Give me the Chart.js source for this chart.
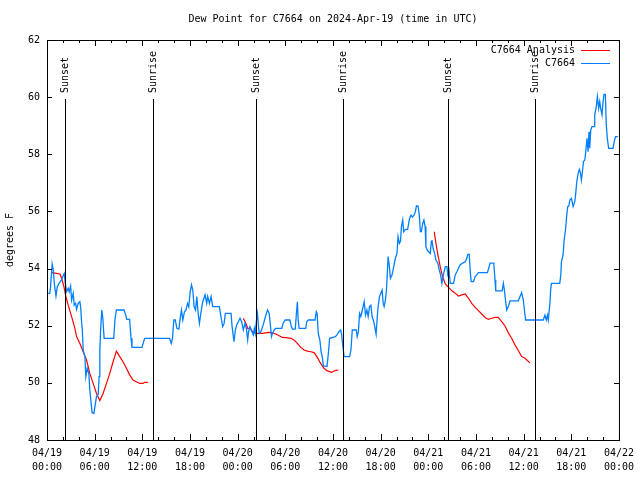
<!DOCTYPE html>
<html>
<head>
<meta charset="utf-8">
<script src="https://cdn.jsdelivr.net/npm/chart.js@4.4.1/dist/chart.umd.min.js"></script>
<style>
  html, body { margin: 0; padding: 0; background: #fff; }
  canvas { display: block; }
</style>
</head>
<body>
<canvas id="chart" width="640" height="480"></canvas>
<script>
// hours since 2024-04-19 00:00 UTC
const obsHours = [0.15,0.35,0.45,0.65,0.8,0.92,1.13,1.3,1.55,1.84,2.05,2.17,2.3,2.47,2.67,2.8,2.97,3.1,3.3,3.43,3.6,3.72,3.93,4.14,4.25,4.35,4.45,4.55,4.77,4.89,5.06,5.27,5.39,5.55,5.68,5.9,6.0,6.23,6.45,6.56,6.65,6.75,6.9,7.03,7.19,8.4,8.57,8.74,9.7,9.91,10.05,10.4,10.58,10.7,11.96,12.13,12.3,15.43,15.64,15.8,15.97,16.15,16.35,16.6,16.8,16.93,17.1,17.31,17.5,17.69,17.85,18.03,18.19,18.35,18.52,18.7,18.86,19.03,19.19,19.4,19.61,19.9,20.1,20.23,20.45,20.66,20.86,21.7,21.9,22.12,22.3,22.45,23.17,23.3,23.46,23.54,23.71,23.88,24.08,24.3,24.5,24.71,24.92,25.1,25.26,25.38,25.55,25.8,25.97,26.1,26.22,26.35,26.5,26.62,26.72,26.93,27.22,27.38,27.55,27.76,27.97,28.1,28.26,28.38,28.6,28.8,29.56,29.72,29.98,30.57,30.74,30.9,31.25,31.4,31.52,31.62,31.74,32.57,32.7,32.9,33.74,33.9,34.0,34.15,34.35,34.5,34.65,34.8,35.25,35.42,35.58,36.3,36.5,36.75,36.97,37.1,37.18,37.4,38.1,38.26,38.43,38.93,39.05,39.2,39.35,39.5,39.7,39.93,40.1,40.27,40.43,40.6,40.77,40.93,41.14,41.3,41.43,41.55,41.68,41.86,42.02,42.19,42.32,42.44,42.6,42.73,42.82,42.94,43.1,43.23,43.44,43.65,43.86,44.06,44.19,44.36,44.5,44.62,44.78,44.9,45.12,45.4,45.53,45.65,45.83,46.0,46.2,46.37,46.5,46.7,46.87,47.0,47.13,47.3,47.45,47.6,47.7,47.85,48.04,48.25,48.38,48.46,48.6,48.8,48.96,49.2,49.38,49.55,49.71,49.9,50.14,50.34,50.45,50.6,50.76,51.18,51.39,51.6,51.8,52.0,52.31,52.64,52.85,52.97,53.15,53.28,53.4,53.7,53.9,54.1,54.31,55.44,55.6,55.78,56.24,56.4,56.49,57.03,57.3,57.45,57.58,57.74,57.87,58.08,58.28,59.33,59.55,59.75,59.96,60.1,60.25,62.47,62.68,62.85,63.0,63.1,63.31,63.4,63.5,64.55,64.68,64.76,64.97,65.1,65.27,65.45,65.55,65.69,65.82,66.02,66.23,66.44,66.56,66.69,66.86,67.02,67.15,67.27,67.4,67.53,67.7,67.82,67.98,68.11,68.23,68.32,68.45,68.61,68.86,68.95,69.15,69.28,69.45,69.58,69.7,69.87,70.0,70.12,70.29,70.4,70.53,70.71,71.25,71.45,71.58,71.87];
const obsDewpt = [53.13,53.13,53.37,54.16,53.95,53.48,53.04,53.37,53.5,53.6,53.77,53.83,53.48,53.19,53.31,53.19,53.39,52.9,53.13,52.72,52.78,52.57,52.78,52.84,52.61,52.14,51.85,51.15,50.92,50.22,50.51,50.33,49.75,49.3,48.96,48.93,49.11,49.52,49.6,50.22,51.15,51.85,52.55,52.26,51.56,51.56,52.26,52.55,52.55,52.37,52.22,52.22,51.56,51.24,51.24,51.41,51.56,51.56,51.38,51.56,52.2,52.2,51.91,51.88,52.32,52.55,52.2,52.49,52.55,52.78,52.66,53.19,53.43,53.25,52.67,52.55,53.02,52.43,52.08,52.49,52.84,53.08,52.78,53.02,52.78,53.02,52.67,52.67,52.32,51.97,52.08,52.43,52.43,51.97,51.62,51.44,51.85,52.03,52.14,52.26,52.14,51.85,52.08,51.91,51.5,51.79,51.97,51.79,51.68,51.91,51.73,52.14,52.43,51.97,51.73,51.79,52.03,52.2,52.37,52.55,52.43,52.08,51.62,51.73,51.85,51.91,51.91,52.08,52.2,52.2,52.0,51.88,51.88,52.43,52.84,52.2,51.91,51.91,52.14,52.2,52.2,52.49,52.43,51.73,51.5,51.09,50.92,50.59,50.57,51.03,51.56,51.62,51.68,51.79,51.85,51.68,51.44,50.92,50.92,51.15,51.85,51.85,51.62,51.79,52.43,52.32,52.55,52.84,52.37,52.55,52.32,52.67,52.72,52.32,52.14,51.9,51.7,52.2,52.67,53.02,53.13,53.25,52.78,52.67,52.9,53.25,53.72,54.42,54.07,53.66,53.78,54.07,54.36,54.53,55.12,54.88,54.95,55.47,55.7,55.29,55.37,55.37,55.58,55.76,55.87,55.8,55.87,55.99,56.19,56.19,55.87,55.29,55.29,55.58,55.7,55.47,54.77,54.65,54.59,54.53,54.94,55.0,54.71,54.53,54.3,54.19,53.95,53.78,53.48,53.78,54.07,54.07,53.8,53.95,53.48,53.48,53.78,53.89,54.01,54.13,54.19,54.24,54.36,54.5,54.5,53.9,53.54,53.54,53.72,53.78,53.86,53.86,54.01,54.19,54.19,53.6,53.22,53.22,53.22,53.48,53.25,52.84,52.55,52.67,52.87,52.87,53.02,53.16,52.9,52.55,52.2,52.2,52.37,52.2,52.37,52.2,52.78,53.25,53.48,53.48,53.78,54.24,54.48,55.0,55.35,55.93,56.17,56.19,56.4,56.46,56.17,56.34,56.63,57.04,57.33,57.47,57.35,57.1,57.39,57.74,57.8,58.09,58.56,58.09,58.79,58.21,58.85,58.97,58.97,59.38,59.67,60.02,59.61,59.84,59.61,59.38,59.84,60.1,60.1,59.08,58.56,58.21,58.21,58.5,58.62,58.62];

// analysis; null marks the gaps between runs
const anaHours = [0.58,1.0,1.63,1.84,2.13,2.38,2.67,3.1,3.51,3.72,4.14,4.55,4.98,5.39,5.81,6.23,6.65,7.06,7.49,7.9,8.32,8.74,9.16,9.57,10.0,10.4,10.83,11.25,11.67,12.08,12.3,12.7,
  18,
  24.71,25.04,25.26,25.55,25.88,26.3,26.72,27.13,27.55,27.97,28.38,28.8,29.23,29.64,30.06,30.69,31.1,31.52,31.95,32.36,32.78,33.2,33.62,34.03,34.45,34.87,35.29,35.84,36.25,36.67,
  42,
  48.75,48.96,49.21,49.5,49.8,50.14,50.55,50.97,51.39,51.8,52.22,52.64,53.06,53.47,53.9,54.31,54.73,55.15,55.57,55.98,56.41,56.8,57.24,57.66,58.08,58.49,58.91,59.33,59.75,60.17,60.8];
const anaDewpt = [53.86,53.84,53.81,53.66,53.37,53.02,52.72,52.32,51.91,51.62,51.38,51.09,50.8,50.33,49.98,49.63,49.38,49.63,49.98,50.33,50.74,51.11,50.92,50.74,50.51,50.28,50.1,50.04,49.98,49.98,50.02,50.02,
  null,
  52.26,52.08,51.91,51.91,51.79,51.73,51.73,51.73,51.75,51.77,51.75,51.71,51.65,51.59,51.58,51.56,51.5,51.38,51.24,51.15,51.11,51.09,51.06,50.89,50.68,50.51,50.42,50.37,50.43,50.45,
  null,
  55.29,54.88,54.48,54.07,53.72,53.46,53.34,53.22,53.14,53.04,53.08,53.11,52.96,52.78,52.64,52.53,52.41,52.29,52.22,52.26,52.29,52.29,52.14,51.99,51.75,51.56,51.33,51.13,50.92,50.86,50.7];

const sunHours = [2.25, 13.33, 26.35, 37.32, 50.45, 61.38];
const sunLabels = ['Sunset', 'Sunrise', 'Sunset', 'Sunrise', 'Sunset', 'Sunrise'];

const xTickDates = ['04/19','04/19','04/19','04/19','04/20','04/20','04/20','04/20','04/21','04/21','04/21','04/21','04/22'];
const xTickTimes = ['00:00','06:00','12:00','18:00','00:00','06:00','12:00','18:00','00:00','06:00','12:00','18:00','00:00'];

const titleText = 'Dew Point for C7664 on 2024-Apr-19 (time in UTC)';
const obsName = 'C7664';
const anaName = 'C7664 Analysis';

const FONT = "'DejaVu Sans Mono', monospace";
const RED = '#ff0000';
const BLUE = '#0080ff';

const pts = (xs, ys) => xs.map((x, i) => ({ x: x, y: ys[i] }));

// border, inward tics, sun lines, title and legend
const decor = {
  id: 'decor',
  afterDraw(chart) {
    const ctx = chart.ctx;
    const a = chart.chartArea;
    const xs = chart.scales.x, ys = chart.scales.y;
    ctx.save();
    ctx.strokeStyle = '#000';
    ctx.lineWidth = 1;

    ctx.beginPath();
    for (let h = 0; h <= 72; h += 2) {
      const px = Math.round(xs.getPixelForValue(h)) + 0.5;
      const len = h % 6 === 0 ? 6 : 3;
      ctx.moveTo(px, a.bottom); ctx.lineTo(px, a.bottom - len);
      ctx.moveTo(px, a.top); ctx.lineTo(px, a.top + len);
    }
    for (let v = 48; v <= 62; v += 2) {
      const py = Math.round(ys.getPixelForValue(v)) + 0.5;
      ctx.moveTo(a.left, py); ctx.lineTo(a.left + 5, py);
      ctx.moveTo(a.right, py); ctx.lineTo(a.right - 5, py);
    }
    ctx.stroke();
    ctx.strokeRect(a.left + 0.5, a.top + 0.5, a.right - a.left, a.bottom - a.top);

    ctx.font = '10px ' + FONT;
    ctx.fillStyle = '#000';
    sunHours.forEach((h, i) => {
      const px = Math.round(xs.getPixelForValue(h)) + 0.5;
      ctx.beginPath();
      ctx.moveTo(px, 99); ctx.lineTo(px, a.bottom);
      ctx.stroke();
      ctx.save();
      ctx.translate(px, 93);
      ctx.rotate(-Math.PI / 2);
      ctx.textAlign = 'left';
      ctx.textBaseline = 'middle';
      ctx.fillText(sunLabels[i], 0, 0);
      ctx.restore();
    });

    ctx.textAlign = 'center';
    ctx.textBaseline = 'middle';
    ctx.fillText(titleText, (a.left + a.right) / 2, 19);

    const legend = [[anaName, RED, 50], [obsName, BLUE, 63]];
    legend.forEach(([name, col, y]) => {
      ctx.textAlign = 'right';
      ctx.fillStyle = '#000';
      ctx.fillText(name, 575, y);
      ctx.strokeStyle = col;
      ctx.beginPath();
      ctx.moveTo(581, y + 0.5); ctx.lineTo(610, y + 0.5);
      ctx.stroke();
    });
    ctx.restore();
  }
};

new Chart(document.getElementById('chart'), {
  type: 'line',
  data: {
    datasets: [
      {
        label: obsName,
        data: pts(obsHours, obsDewpt),
        borderColor: BLUE,
        borderWidth: 1.3,
        pointRadius: 0,
        fill: false,
        tension: 0
      },
      {
        label: anaName,
        data: pts(anaHours, anaDewpt),
        borderColor: RED,
        borderWidth: 1.2,
        pointRadius: 0,
        fill: false,
        spanGaps: false,
        tension: 0
      }
    ]
  },
  options: {
    responsive: false,
    animation: false,
    layout: { padding: { top: 40, right: 19, left: 0, bottom: 0 } },
    plugins: { legend: { display: false }, tooltip: { enabled: false }, title: { display: false } },
    scales: {
      x: {
        type: 'linear',
        min: 0, max: 72,
        grid: { display: false, drawTicks: false },
        border: { display: false },
        afterFit: (s) => { s.height = 40; },
        ticks: {
          stepSize: 2,
          autoSkip: false,
          maxRotation: 0,
          padding: 6,
          color: '#000',
          font: { family: FONT, size: 10, lineHeight: 1.4 },
          callback: (v) => v % 6 === 0 ? [xTickDates[v / 6], xTickTimes[v / 6]] : ''
        }
      },
      y: {
        min: 48, max: 62,
        grid: { display: false, drawTicks: false },
        border: { display: false },
        afterFit: (s) => { s.width = 47; },
        title: {
          display: true,
          text: 'degrees F',
          color: '#000',
          font: { family: FONT, size: 10 },
          padding: { top: 4, bottom: 0 }
        },
        ticks: {
          stepSize: 2,
          padding: 7,
          color: '#000',
          font: { family: FONT, size: 10 }
        }
      }
    }
  },
  plugins: [decor]
});
</script>
</body>
</html>
